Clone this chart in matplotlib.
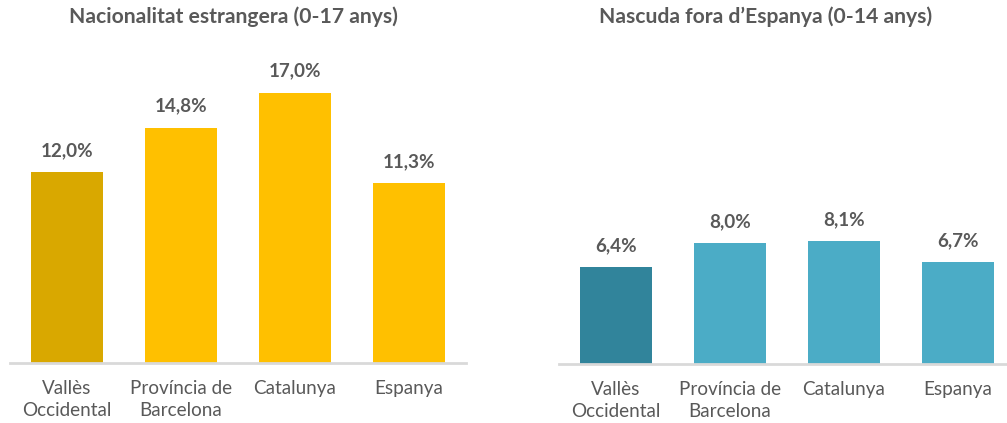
import matplotlib
matplotlib.use("Agg")
import matplotlib.pyplot as plt

plt.rcParams['font.family'] = ['Lato', 'DejaVu Sans']

categories = ["Vallès\nOccidental", "Província de\nBarcelona", "Catalunya", "Espanya"]
left_values = [12.0, 14.8, 17.0, 11.3]
right_values = [6.4, 8.0, 8.1, 6.7]
left_title = "Nacionalitat estrangera (0-17 anys)"
right_title = "Nascuda fora d\u2019Espanya (0-14 anys)"
left_colors = ["#D9A800", "#FFC000", "#FFC000", "#FFC000"]
right_colors = ["#31849B", "#4BACC6", "#4BACC6", "#4BACC6"]

W, H = 1007, 423
fig = plt.figure(figsize=(W / 100, H / 100), dpi=100)
text_color = "#595959"

def make_axes(x0, base, top, w):
    return fig.add_axes([x0 / W, (H - base) / H, w / W, (base - top) / H])

def fmt(v):
    return f"{v:.1f}".replace(".", ",") + "%"

def draw(ax, values, colors, ymax):
    x = range(len(values))
    bars = ax.bar(x, values, width=0.635, color=colors)
    ax.set_xlim(-0.5, 3.5)
    ax.set_ylim(0, ymax)
    for b, v in zip(bars, values):
        ax.annotate(fmt(v), (b.get_x() + b.get_width() / 2, v), xytext=(0, 15.5),
                    textcoords="offset points", ha="center", va="center",
                    fontsize=13.6, fontweight="bold", color=text_color)
    ax.set_xticks(list(x))
    ax.set_xticklabels(categories, fontsize=13.6, color=text_color, linespacing=1.32)
    ax.tick_params(axis="x", length=0, pad=12.5)
    ax.set_yticks([])
    for s in ["top", "left", "right"]:
        ax.spines[s].set_visible(False)
    ax.spines["bottom"].set_color("#D9D9D9")
    ax.spines["bottom"].set_linewidth(2)

ax1 = make_axes(10, 363, 50, 456)
draw(ax1, left_values, left_colors, 313 / 15.9)
ax2 = make_axes(559, 364, 51, 456)
draw(ax2, right_values, right_colors, 313 / 15.15)

fig.text(233 / W, 1 - 17 / H, left_title, ha="center", va="center",
         fontsize=15.2, fontweight="bold", color=text_color)
fig.text(766 / W, 1 - 17 / H, right_title, ha="center", va="center",
         fontsize=15.2, fontweight="bold", color=text_color)

fig.savefig("out.png", dpi=100)
